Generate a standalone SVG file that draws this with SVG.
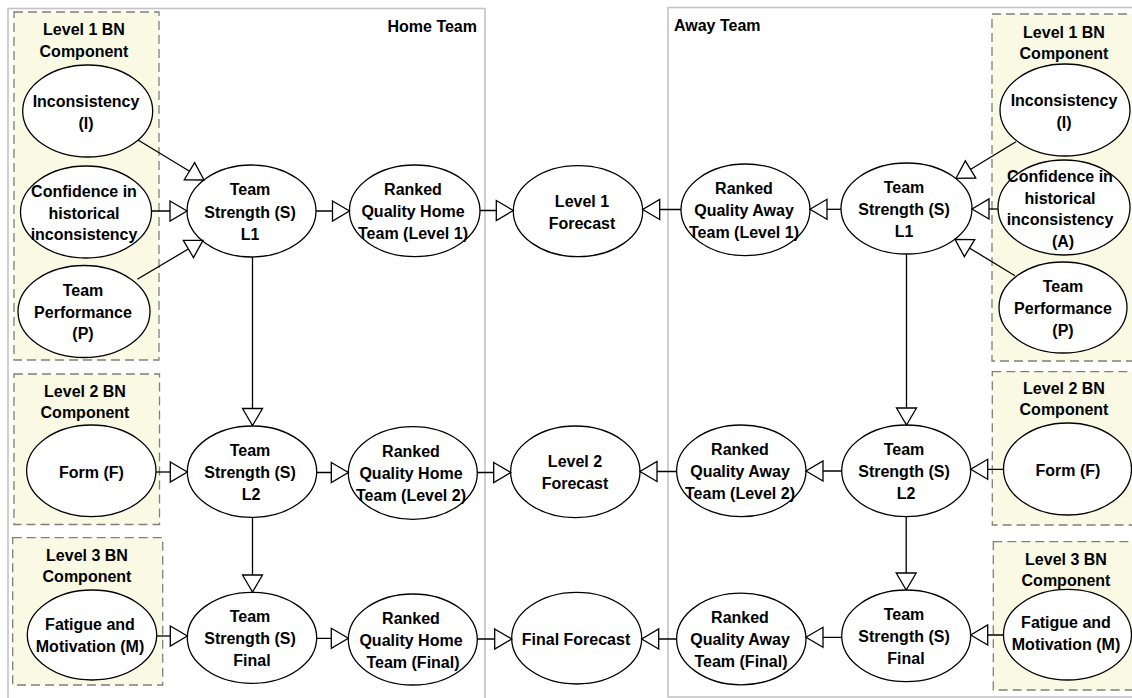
<svg xmlns="http://www.w3.org/2000/svg" width="1132" height="698" viewBox="0 0 1132 698">
<style>
.panel{fill:none;stroke:#c4c4c4;stroke-width:1.6}
.comp{fill:#fafae4;stroke:#7f7f7f;stroke-width:1.3;stroke-dasharray:9,5}
.node{fill:#ffffff;stroke:#000000;stroke-width:1.3}
.t{font-family:"Liberation Sans",Arial,sans-serif;font-weight:bold;font-size:16px;fill:#000000;text-anchor:middle}
.lbl{font-family:"Liberation Sans",Arial,sans-serif;font-weight:bold;font-size:16px;fill:#000000}
.edge{fill:none;stroke:#000000;stroke-width:1.3;marker-end:url(#arr)}
</style>
<defs>
<marker id="arr" viewBox="0 0 17 20" refX="17" refY="10" markerWidth="17" markerHeight="20" markerUnits="userSpaceOnUse" orient="auto" overflow="visible">
<path d="M0,0 L17,10 L0,20 Z" fill="#ffffff" stroke="#000000" stroke-width="1.3" stroke-linejoin="miter"/>
</marker>
</defs>
<rect width="1132" height="698" fill="#ffffff"/>

<g id="home-team-panel">
<rect class="panel" x="8" y="8.5" width="477" height="700"/>
<text class="lbl" x="477" y="32" text-anchor="end">Home Team</text>
</g>
<g id="away-team-panel">
<rect class="panel" x="668" y="7.5" width="480" height="689.5"/>
<text class="lbl" x="674" y="31">Away Team</text>
</g>

<g id="home-level1-component">
<rect class="comp" x="14" y="12" width="145" height="348"/>
<text class="t" x="84" y="35">Level 1 BN</text>
<text class="t" x="84" y="57">Component</text>
</g>
<g id="home-level2-component">
<rect class="comp" x="14" y="374" width="145.5" height="150.5"/>
<text class="t" x="85" y="397">Level 2 BN</text>
<text class="t" x="85" y="418">Component</text>
</g>
<g id="home-level3-component">
<rect class="comp" x="12.7" y="537.7" width="150" height="147.3"/>
<text class="t" x="87" y="560.5">Level 3 BN</text>
<text class="t" x="87" y="581.5">Component</text>
</g>
<g id="away-level1-component">
<rect class="comp" x="992" y="14" width="150" height="347"/>
<text class="t" x="1064" y="38">Level 1 BN</text>
<text class="t" x="1064" y="59">Component</text>
</g>
<g id="away-level2-component">
<rect class="comp" x="992.3" y="371.7" width="150" height="153.3"/>
<text class="t" x="1064" y="394">Level 2 BN</text>
<text class="t" x="1064" y="415">Component</text>
</g>
<g id="away-level3-component">
<rect class="comp" x="993.3" y="541.7" width="150" height="148.3"/>
<text class="t" x="1066" y="565">Level 3 BN</text>
<text class="t" x="1066" y="585.5">Component</text>
</g>

<!-- Home nodes -->
<g id="home-inconsistency">
<ellipse class="node" cx="87.7" cy="111" rx="65" ry="46"/>
<text class="t"><tspan x="86" y="106.5">Inconsistency</tspan><tspan x="86" y="128.5">(I)</tspan></text>
</g>
<g id="home-confidence">
<ellipse class="node" cx="86" cy="212" rx="65.5" ry="46"/>
<text class="t"><tspan x="84" y="196.5">Confidence in</tspan><tspan x="84" y="218.5">historical</tspan><tspan x="84" y="240">inconsistency</tspan></text>
</g>
<g id="home-performance">
<ellipse class="node" cx="84" cy="311.5" rx="66" ry="46"/>
<text class="t"><tspan x="83" y="296">Team</tspan><tspan x="83" y="317.5">Performance</tspan><tspan x="83" y="339">(P)</tspan></text>
</g>
<g id="home-strength-l1">
<ellipse class="node" cx="251.5" cy="211" rx="64.5" ry="46"/>
<text class="t"><tspan x="250" y="195">Team</tspan><tspan x="250" y="217.5">Strength (S)</tspan><tspan x="250" y="240">L1</tspan></text>
</g>
<g id="home-ranked-l1">
<ellipse class="node" cx="414.7" cy="210.8" rx="65.3" ry="45.8"/>
<text class="t"><tspan x="413" y="195">Ranked</tspan><tspan x="413" y="217">Quality Home</tspan><tspan x="413" y="239">Team (Level 1)</tspan></text>
</g>
<g id="level1-forecast">
<ellipse class="node" cx="578" cy="211.2" rx="64.7" ry="45.5"/>
<text class="t"><tspan x="582" y="206.5">Level 1</tspan><tspan x="582" y="228.5">Forecast</tspan></text>
</g>
<g id="away-ranked-l1">
<ellipse class="node" cx="745.5" cy="209.8" rx="64.5" ry="45.8"/>
<text class="t"><tspan x="744" y="194">Ranked</tspan><tspan x="744" y="216">Quality Away</tspan><tspan x="744" y="238">Team (Level 1)</tspan></text>
</g>
<g id="away-strength-l1">
<ellipse class="node" cx="906.5" cy="208.5" rx="65.5" ry="45.5"/>
<text class="t"><tspan x="904" y="193">Team</tspan><tspan x="904" y="215">Strength (S)</tspan><tspan x="904" y="237">L1</tspan></text>
</g>
<g id="away-inconsistency">
<ellipse class="node" cx="1065" cy="110" rx="65" ry="46"/>
<text class="t"><tspan x="1064" y="106">Inconsistency</tspan><tspan x="1064" y="127.5">(I)</tspan></text>
</g>
<g id="away-confidence">
<ellipse class="node" cx="1064" cy="207.5" rx="66" ry="47.5"/>
<text class="t"><tspan x="1060" y="182">Confidence in</tspan><tspan x="1060" y="203.5">historical</tspan><tspan x="1060" y="225">inconsistency</tspan><tspan x="1063" y="246.5">(A)</tspan></text>
</g>
<g id="away-performance">
<ellipse class="node" cx="1063" cy="307.5" rx="64" ry="45.5"/>
<text class="t"><tspan x="1063" y="292">Team</tspan><tspan x="1063" y="314">Performance</tspan><tspan x="1063" y="336">(P)</tspan></text>
</g>

<!-- Row 2 -->
<g id="home-form">
<ellipse class="node" cx="91.3" cy="470.8" rx="64.7" ry="45.8"/>
<text class="t" x="91.5" y="477.5">Form (F)</text>
</g>
<g id="home-strength-l2">
<ellipse class="node" cx="252" cy="471.7" rx="64.7" ry="45.7"/>
<text class="t"><tspan x="250" y="456">Team</tspan><tspan x="250" y="478">Strength (S)</tspan><tspan x="251" y="500">L2</tspan></text>
</g>
<g id="home-ranked-l2">
<ellipse class="node" cx="412.8" cy="473" rx="64.5" ry="46.3"/>
<text class="t"><tspan x="411" y="457">Ranked</tspan><tspan x="411" y="479">Quality Home</tspan><tspan x="411" y="501">Team (Level 2)</tspan></text>
</g>
<g id="level2-forecast">
<ellipse class="node" cx="575.3" cy="471.8" rx="64.7" ry="45.8"/>
<text class="t"><tspan x="575" y="467">Level 2</tspan><tspan x="575" y="489">Forecast</tspan></text>
</g>
<g id="away-ranked-l2">
<ellipse class="node" cx="741.3" cy="470.8" rx="64.7" ry="45.8"/>
<text class="t"><tspan x="740" y="455">Ranked</tspan><tspan x="740" y="477">Quality Away</tspan><tspan x="740" y="499">Team (Level 2)</tspan></text>
</g>
<g id="away-strength-l2">
<ellipse class="node" cx="906.2" cy="470.8" rx="64.5" ry="45.8"/>
<text class="t"><tspan x="904" y="455">Team</tspan><tspan x="904" y="477">Strength (S)</tspan><tspan x="906" y="499">L2</tspan></text>
</g>
<g id="away-form">
<ellipse class="node" cx="1067.5" cy="469" rx="64" ry="46"/>
<text class="t" x="1068" y="475.5">Form (F)</text>
</g>

<!-- Row 3 -->
<g id="home-fatigue">
<ellipse class="node" cx="92" cy="635" rx="64.7" ry="45"/>
<text class="t"><tspan x="90" y="630">Fatigue and</tspan><tspan x="90" y="652">Motivation (M)</tspan></text>
</g>
<g id="home-strength-final">
<ellipse class="node" cx="252" cy="637.8" rx="64.7" ry="45.5"/>
<text class="t"><tspan x="250" y="622">Team</tspan><tspan x="250" y="644">Strength (S)</tspan><tspan x="252" y="666">Final</tspan></text>
</g>
<g id="home-ranked-final">
<ellipse class="node" cx="412.8" cy="639.5" rx="64.5" ry="45.5"/>
<text class="t"><tspan x="411" y="623.5">Ranked</tspan><tspan x="411" y="645.5">Quality Home</tspan><tspan x="413" y="667.5">Team (Final)</tspan></text>
</g>
<g id="final-forecast">
<ellipse class="node" cx="576.7" cy="638.2" rx="65" ry="45.8"/>
<text class="t" x="576" y="644.5">Final Forecast</text>
</g>
<g id="away-ranked-final">
<ellipse class="node" cx="741.3" cy="639" rx="64.7" ry="45.8"/>
<text class="t"><tspan x="740" y="623">Ranked</tspan><tspan x="740" y="645">Quality Away</tspan><tspan x="741" y="667">Team (Final)</tspan></text>
</g>
<g id="away-strength-final">
<ellipse class="node" cx="906.2" cy="635.8" rx="64.5" ry="45.8"/>
<text class="t"><tspan x="904" y="620">Team</tspan><tspan x="904" y="642">Strength (S)</tspan><tspan x="906" y="664">Final</tspan></text>
</g>
<g id="away-fatigue">
<ellipse class="node" cx="1067.5" cy="634.7" rx="64" ry="45.3"/>
<text class="t"><tspan x="1066" y="628">Fatigue and</tspan><tspan x="1066" y="650">Motivation (M)</tspan></text>
</g>

<g id="connectors">
<line class="edge" x1="138" y1="140" x2="204" y2="180"/>
<line class="edge" x1="152" y1="211" x2="187" y2="211"/>
<line class="edge" x1="137.3" y1="279.3" x2="203" y2="240.3"/>
<line class="edge" x1="316" y1="211" x2="349.5" y2="211"/>
<line class="edge" x1="480" y1="210.5" x2="513.3" y2="210.5"/>
<line class="edge" x1="252.5" y1="257" x2="252.5" y2="425.5"/>
<line class="edge" x1="156" y1="472" x2="187.3" y2="472"/>
<line class="edge" x1="316.7" y1="472.5" x2="348.3" y2="472.5"/>
<line class="edge" x1="477.3" y1="472.5" x2="510.7" y2="472.5"/>
<line class="edge" x1="252.5" y1="517.4" x2="252.5" y2="592"/>
<line class="edge" x1="156.7" y1="636" x2="187.3" y2="636"/>
<line class="edge" x1="316.7" y1="638.3" x2="348.3" y2="638.3"/>
<line class="edge" x1="477.3" y1="639" x2="511.7" y2="639"/>

<line class="edge" x1="681" y1="209.5" x2="642.7" y2="209.5"/>
<line class="edge" x1="841" y1="209.3" x2="810" y2="209.3"/>
<line class="edge" x1="1016" y1="141.7" x2="956" y2="178.3"/>
<line class="edge" x1="998" y1="209" x2="972" y2="209"/>
<line class="edge" x1="1015" y1="275.7" x2="955" y2="239.3"/>
<line class="edge" x1="906.5" y1="254" x2="906.5" y2="425"/>
<line class="edge" x1="676.7" y1="471.5" x2="640" y2="471.5"/>
<line class="edge" x1="841.7" y1="471" x2="806" y2="471"/>
<line class="edge" x1="1003.5" y1="469.3" x2="970.7" y2="469.3"/>
<line class="edge" x1="906.2" y1="516.6" x2="906.2" y2="590"/>
<line class="edge" x1="676.7" y1="639" x2="641.7" y2="639"/>
<line class="edge" x1="841.7" y1="637.3" x2="806" y2="637.3"/>
<line class="edge" x1="1003.5" y1="635" x2="970.7" y2="635"/>
</g>
</svg>
